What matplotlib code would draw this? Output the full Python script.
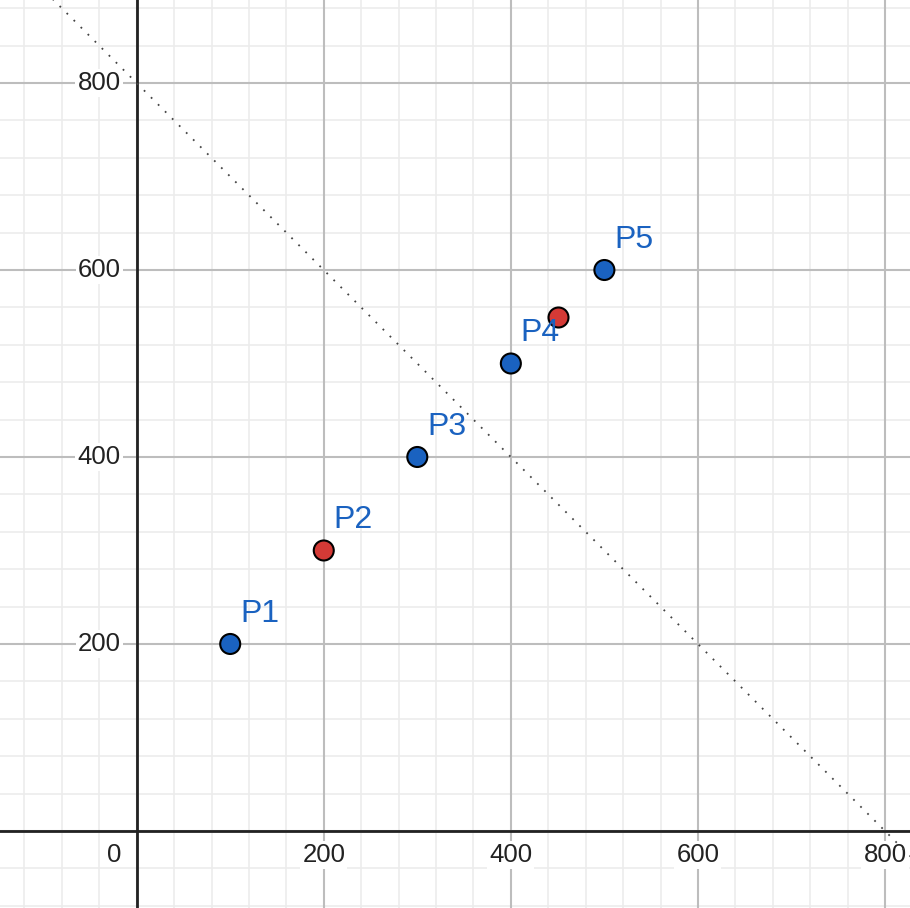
import matplotlib.pyplot as plt
import numpy as np

plt.rcParams['font.family'] = ['Liberation Sans', 'DejaVu Sans']

# points
names = ['P1', 'P2', 'P3', 'P4', 'P5']
px = [100, 200, 300, 400, 500]
py = [200, 300, 400, 500, 600]
pcol = ['blue', 'red', 'blue', 'blue', 'blue']
extra_x = [450]
extra_y = [550]

# dotted line y = 800 - x
line_x = [-200, 900]
line_y = [800 - v for v in line_x]

ticks = [200, 400, 600, 800]

BLUE = '#1a62c0'
RED = '#d43a36'

fig = plt.figure(figsize=(9.1, 9.08), dpi=100)
ax = fig.add_axes([0, 0, 1, 1])
ax.set_xlim(-146.1, 826.7)
ax.set_ylim(-82.4, 888.8)

# grid
minor = np.arange(-160, 1000, 40)
for v in minor:
    ax.axvline(v, color='#ececec', lw=1.2, zorder=0)
    ax.axhline(v, color='#ececec', lw=1.2, zorder=0)
for v in np.arange(-200, 1000, 200):
    ax.axvline(v, color='#bdbdbd', lw=1.5, zorder=1)
    ax.axhline(v, color='#bdbdbd', lw=1.5, zorder=1)
ax.axvline(0, color='#222222', lw=2, zorder=2)
ax.axhline(0, color='#222222', lw=2, zorder=2)

# tick labels
box = dict(facecolor='white', edgecolor='none', pad=1.5)
for t in ticks:
    ax.annotate(str(t), (0, t), xytext=(-16, 0), textcoords='offset pixels',
                ha='right', va='center', fontsize=18.5, color='#222222',
                bbox=box, zorder=3)
    ax.annotate(str(t), (t, 0), xytext=(0, -24), textcoords='offset pixels',
                ha='center', va='center', fontsize=18.5, color='#222222',
                bbox=box, zorder=3)
ax.annotate('0', (0, 0), xytext=(-22, -24), textcoords='offset pixels',
            ha='center', va='center', fontsize=18.5, color='#222222', zorder=3)

ax.plot(line_x, line_y, color='#444444', lw=1.3, ls=(0, (1, 4.5)), zorder=4)

colors = [BLUE if c == 'blue' else RED for c in pcol]
ax.scatter(px, py, s=14.4 ** 2, c=colors, edgecolors='black', linewidths=1.5, zorder=5)
ax.scatter(extra_x, extra_y, s=14.4 ** 2, c=RED, edgecolors='black', linewidths=1.5, zorder=5)

for n, x, y in zip(names, px, py):
    ax.annotate(n, (x, y), xytext=(10, 15), textcoords='offset pixels',
                ha='left', va='bottom', fontsize=23, color=BLUE, zorder=6)

ax.axis('off')
fig.savefig('out.png', dpi=100)
